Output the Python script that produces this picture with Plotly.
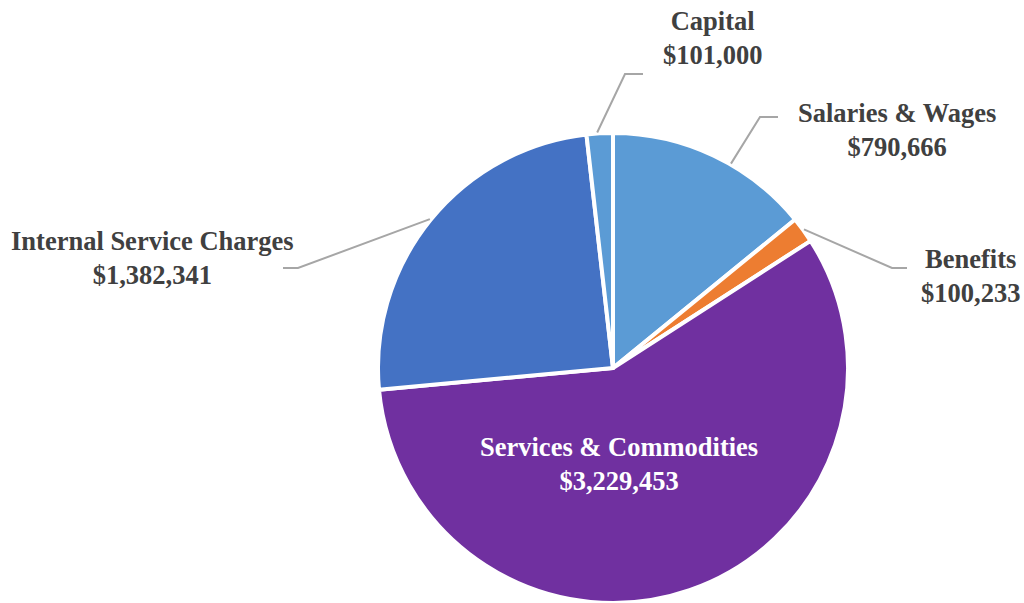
import math
import plotly.graph_objects as go

# Budget categories and amounts, clockwise from 12 o'clock
categories = ["Salaries & Wages", "Benefits", "Services & Commodities",
              "Internal Service Charges", "Capital"]
amounts = [790666, 100233, 3229453, 1382341, 101000]
slice_colors = ["#5B9BD5", "#ED7D31", "#7030A0", "#4472C4", "#5B9BD5"]

W, H = 1024, 603
CX, CY, R = 613, 368, 235          # pie centre / radius in pixels
BORDER = 4

# label layout: text centre (px), elbow point, end of horizontal tick, angle nudge (deg)
label_layout = {
    "Capital":                  dict(text=(712, 38),  elbow=(625, 74),  end=(643, 74),  nudge=-0.6),
    "Salaries & Wages":         dict(text=(897, 130), elbow=(760, 117), end=(778, 117), nudge=4.6),
    "Benefits":                 dict(text=(970, 276), elbow=(892, 268), end=(907, 268), nudge=0.0),
    "Internal Service Charges": dict(text=(152, 258), elbow=(298, 268), end=(283, 268), nudge=0.0),
}
inside_label = {"Services & Commodities": (619, 464)}

LABEL_FONT = dict(family="Liberation Serif, Times New Roman, serif", size=26.5, color="#404040")
LEADER_COLOR = "#A6A6A6"


def px(x):
    return x / W


def py(y):
    return 1 - y / H


fig = go.Figure(go.Pie(
    labels=categories,
    values=amounts,
    sort=False,
    direction="clockwise",
    rotation=0,
    marker=dict(colors=slice_colors, line=dict(color="white", width=BORDER)),
    textinfo="none",
    hoverinfo="label+value",
    showlegend=False,
    domain=dict(x=[px(CX - R), px(CX + R)], y=[max(0.0, py(CY + R)), py(CY - R)]),
))

total = sum(amounts)
annotations = []
shapes = []
cum = 0.0
for name, val in zip(categories, amounts):
    start = cum
    cum += val
    text = f"<b>{name}<br>${val:,.0f}</b>"
    if name in inside_label:
        tx, ty = inside_label[name]
        annotations.append(dict(x=px(tx), y=py(ty), xref="paper", yref="paper",
                                text=text, showarrow=False, xanchor="center", yanchor="middle",
                                font=dict(LABEL_FONT, color="white")))
        continue
    cfg = label_layout[name]
    mid = (start + val / 2) / total * 2 * math.pi + math.radians(cfg["nudge"])
    r_edge = R + 1
    ax_, ay_ = CX + r_edge * math.sin(mid), CY - r_edge * math.cos(mid)
    ex, ey = cfg["elbow"]
    hx, hy = cfg["end"]
    shapes.append(dict(type="path", xref="paper", yref="paper",
                       path=f"M {px(ax_)} {py(ay_)} L {px(ex)} {py(ey)} L {px(hx)} {py(hy)}",
                       line=dict(color=LEADER_COLOR, width=2)))
    tx, ty = cfg["text"]
    annotations.append(dict(x=px(tx), y=py(ty), xref="paper", yref="paper",
                            text=text, showarrow=False, xanchor="center", yanchor="middle",
                            font=LABEL_FONT))

fig.update_layout(
    width=W, height=H,
    margin=dict(l=0, r=0, t=0, b=0),
    paper_bgcolor="white",
    plot_bgcolor="white",
    annotations=annotations,
    shapes=shapes,
)

fig.write_html("out.html")
